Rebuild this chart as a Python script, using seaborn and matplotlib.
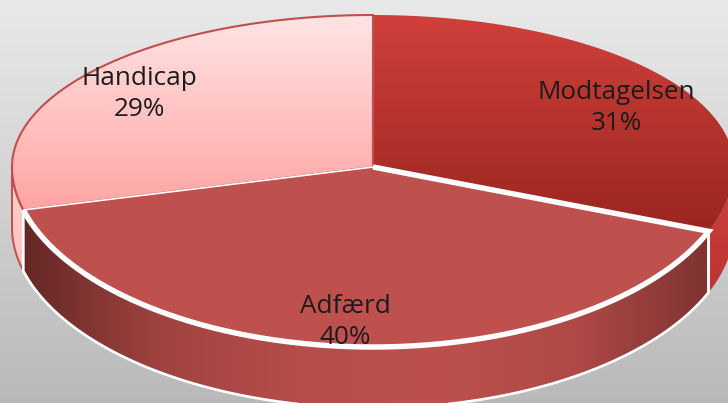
import numpy as np
import matplotlib
matplotlib.use("Agg")
import matplotlib.pyplot as plt
from matplotlib.patches import Polygon
import seaborn as sns

categories = ["Modtagelsen", "Adfærd", "Handicap"]
shares = [31, 40, 29]

sns.set_theme(style="white")
plt.rcParams["font.family"] = ["Open Sans", "DejaVu Sans"]

W, H = 728, 403
fig = plt.figure(figsize=(W / 100, H / 100), dpi=100)
ax = fig.add_axes([0, 0, 1, 1])
ax.set_xlim(0, W)
ax.set_ylim(H, 0)
ax.set_axis_off()

CX, CY, RX, RY_BACK, RY_FRONT, DEPTH = 373, 167, 361, 152, 180, 61


def project(theta):
    """theta: degrees clockwise from 12 o'clock on the pie's circle."""
    t = np.radians(theta)
    u, v = np.sin(t), np.cos(t)
    y = np.where(v >= 0, CY - RY_BACK * v, CY + RY_FRONT * np.abs(v) ** 1.03)
    return np.column_stack([CX + RX * u, y])


def arc(a, b, n=240):
    return project(np.linspace(a, b, n))


def gradient(colors, extent, horizontal, clip, zorder):
    cmap = sns.blend_palette(colors, as_cmap=True)
    ramp = np.linspace(0, 1, 256)
    data = ramp[None, :] if horizontal else ramp[:, None]
    im = ax.imshow(data, cmap=cmap, extent=extent, aspect="auto", zorder=zorder,
                   vmin=0, vmax=1, origin="upper", interpolation="bilinear")
    im.set_clip_path(clip)


def side(arc_pts):
    lower = arc_pts[::-1] + np.array([0, DEPTH])
    return np.vstack([arc_pts, lower])


edges = np.cumsum([0] + shares) * 3.6
apex = np.array([[CX, CY]])

# background
bg = sns.blend_palette(["#e9e9e9", "#b9b9b9"], as_cmap=True)
ax.imshow(np.linspace(0, 1, 256)[:, None], cmap=bg, extent=(0, W, H, 0),
          aspect="auto", zorder=0, origin="upper")

# side walls
p = Polygon(side(arc(90, edges[1])), closed=True, fc="none", ec="none")
ax.add_patch(p)
gradient(["#cf3d3a", "#b83533"], (660, 740, 310, 180), False, p, 1)

p = Polygon(side(arc(edges[2], 270)), closed=True, fc="none", ec="none")
ax.add_patch(p)
gradient(["#ffd0d0", "#ffc0c0"], (0, 40, 280, 160), False, p, 1)
ax.add_patch(Polygon(side(arc(edges[2], 270)), closed=True, fc="none", ec="#c0504d", lw=1.4, zorder=2))

adf_side = side(arc(edges[1], edges[2]))
p = Polygon(adf_side, closed=True, fc="none", ec="none")
ax.add_patch(p)
gradient(["#662826", "#a04340", "#b64d4a", "#bd504e", "#b04a47", "#7f3432"],
         (24, 707, 410, 200), True, p, 3)
ax.add_patch(Polygon(adf_side, closed=True, fc="none", ec="white", lw=1.9, zorder=4))

# top faces
mod_top = np.vstack([apex, arc(0, edges[1])])
p = Polygon(mod_top, closed=True, fc="none", ec="none")
ax.add_patch(p)
gradient(["#d0403b", "#98251f"], (0, W, 240, 15), False, p, 5)

han_top = np.vstack([apex, arc(edges[2], 360)])
p = Polygon(han_top, closed=True, fc="none", ec="none")
ax.add_patch(p)
gradient(["#ffe4e4", "#ffa4a3"], (0, W, 210, 15), False, p, 5)
ax.add_patch(Polygon(han_top, closed=True, fc="none", ec="#c0504d", lw=1.5, zorder=6))

# Adfærd top face: heavy white rim and right edge, thin left edge
adf_arc = arc(edges[1], edges[2])
adf_top = np.vstack([apex, adf_arc])
ax.add_patch(Polygon(adf_top, closed=True, fc="#be504e", ec="none", zorder=7))
ax.plot(*np.vstack([apex, adf_arc]).T, color="white", lw=3.9, zorder=8,
        solid_joinstyle="miter", solid_capstyle="butt")
ax.plot(*np.vstack([apex, adf_arc[-1:]]).T, color="white", lw=1.2, zorder=8,
        solid_capstyle="butt")

# labels
positions = [(616, 108), (345, 322), (139, 94)]
for name, share, (x, y) in zip(categories, shares, positions):
    ax.text(x, y, f"{name}\n{share}%", ha="center", va="center", fontsize=18.8,
            color="#1c1c1c", linespacing=1.32, zorder=10)

fig.savefig("out.png", dpi=100)
